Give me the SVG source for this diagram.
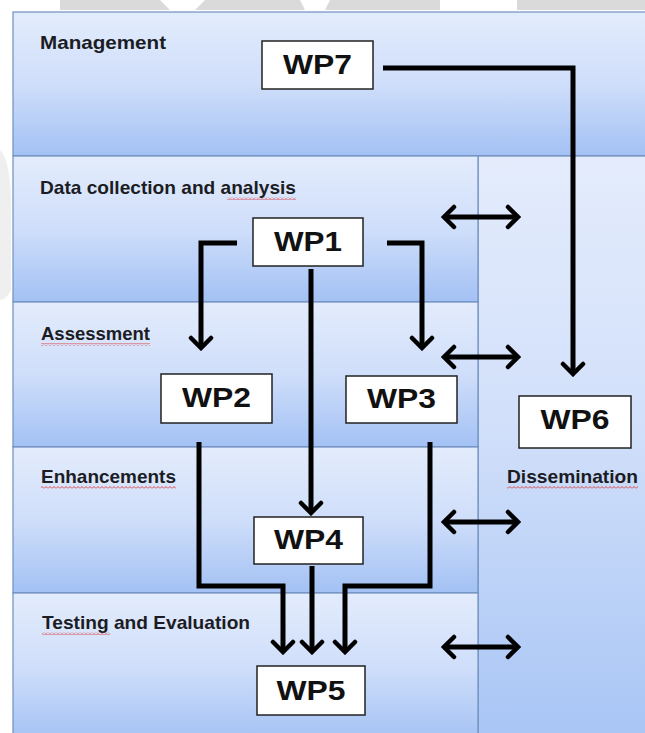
<svg xmlns="http://www.w3.org/2000/svg" width="645" height="733" viewBox="0 0 645 733">
<style>
.lbl{font-family:"Liberation Sans",Arial,sans-serif;font-weight:bold;font-size:18.5px;fill:#1c1c24}
.wp{font-family:"Liberation Sans",Arial,sans-serif;font-weight:bold;font-size:28px;fill:#111;text-anchor:middle}
.box{fill:#fff;stroke:#222;stroke-width:1.5}
.panel{stroke:#6f8fbf;stroke-width:1.2}
.con{fill:none;stroke:#000;stroke-width:5;stroke-linejoin:miter}
</style>
<defs>
<linearGradient id="g" x1="0" y1="0" x2="0" y2="1">
<stop offset="0" stop-color="#e3ecfc"/>
<stop offset="0.5" stop-color="#cfdefa"/>
<stop offset="1" stop-color="#a3c1f4"/>
</linearGradient>
<linearGradient id="gd" x1="0" y1="0" x2="0" y2="1">
<stop offset="0" stop-color="#e4ecfc"/>
<stop offset="0.45" stop-color="#d2e0fa"/>
<stop offset="1" stop-color="#a8c5f5"/>
</linearGradient>
<marker id="ah" viewBox="-14 -14 17 28" refX="0" refY="0" markerWidth="17" markerHeight="28" markerUnits="userSpaceOnUse" orient="auto-start-reverse">
<path d="M-10,-10 L0,0 L-10,10" fill="none" stroke="#000" stroke-width="4.5" stroke-linecap="round"/>
</marker>
<pattern id="sq" width="4" height="3" patternUnits="userSpaceOnUse">
<path d="M0,2.5 L2,0.5 L4,2.5" fill="none" stroke="#d83a3a" stroke-width="0.9"/>
</pattern>
</defs>
<rect width="645" height="733" fill="#fff"/>
<!-- faint watermark -->
<g id="watermark" fill="#dadada">
<path d="M60,0 H440 V10 H60 Z"/>
<path d="M517,0 H645 V10 H517 Z"/>
<path d="M0,150 Q10,160 11,200 L11,290 Q6,300 0,300 Z" fill="#efefef"/>
</g>
<g id="watermark-gaps" fill="#fff">
<path d="M160,0 H205 L195,10 H170 Z"/>
<path d="M300,0 H330 L325,10 H305 Z"/>
</g>
<!-- panels -->
<g id="lane-management"><rect class="panel" x="13" y="12" width="640" height="144" fill="url(#g)" stroke="#7488a4"/><text class="lbl" x="40" y="49" textLength="126" lengthAdjust="spacingAndGlyphs">Management</text></g>
<g id="lane-dissemination"><rect class="panel" x="478" y="156" width="175" height="585" fill="url(#gd)"/><text class="lbl" x="507" y="483" textLength="131" lengthAdjust="spacingAndGlyphs">Dissemination</text></g>
<g id="lane-data"><rect class="panel" x="13" y="156" width="465" height="146" fill="url(#g)"/><text class="lbl" x="40" y="194" textLength="256" lengthAdjust="spacingAndGlyphs">Data collection and analysis</text></g>
<g id="lane-assessment"><rect class="panel" x="13" y="302" width="465" height="145" fill="url(#g)"/><text class="lbl" x="41" y="340" textLength="109" lengthAdjust="spacingAndGlyphs">Assessment</text></g>
<g id="lane-enhancements"><rect class="panel" x="13" y="447" width="465" height="146" fill="url(#g)"/><text class="lbl" x="41" y="483" textLength="135" lengthAdjust="spacingAndGlyphs">Enhancements</text></g>
<g id="lane-testing"><rect class="panel" x="13" y="593" width="465" height="150" fill="url(#g)"/><text class="lbl" x="42" y="629" textLength="208" lengthAdjust="spacingAndGlyphs">Testing and Evaluation</text></g>
<!-- spell-check squiggles -->
<g id="squiggles" fill="url(#sq)">
<rect x="227" y="197" width="69" height="3"/>
<rect x="41" y="343" width="109" height="3"/>
<rect x="41" y="486" width="135" height="3"/>
<rect x="507" y="486" width="131" height="3"/>
<rect x="42" y="632" width="68" height="3"/>
</g>
<!-- connectors -->
<g id="connectors">
<path class="con" d="M383,68 H573 V374" marker-end="url(#ah)"/>
<path class="con" d="M237,243 H201 V348" marker-end="url(#ah)"/>
<path class="con" d="M387,243 H422 V348" marker-end="url(#ah)"/>
<path class="con" d="M311,269 V513" marker-end="url(#ah)"/>
<path class="con" d="M199,442 V586 H283 V652" marker-end="url(#ah)"/>
<path class="con" d="M312,566 V652" marker-end="url(#ah)"/>
<path class="con" d="M430,442 V586 H345 V652" marker-end="url(#ah)"/>
<path class="con" d="M444,217 H518" marker-start="url(#ah)" marker-end="url(#ah)"/>
<path class="con" d="M444,357 H518" marker-start="url(#ah)" marker-end="url(#ah)"/>
<path class="con" d="M444,522 H518" marker-start="url(#ah)" marker-end="url(#ah)"/>
<path class="con" d="M444,647 H518" marker-start="url(#ah)" marker-end="url(#ah)"/>
</g>
<!-- nodes -->
<g id="WP7"><rect class="box" x="262" y="41" width="111" height="48"/><text class="wp" x="317.5" y="74" textLength="69" lengthAdjust="spacingAndGlyphs">WP7</text></g>
<g id="WP1"><rect class="box" x="253" y="218" width="110" height="48"/><text class="wp" x="308" y="251" textLength="68" lengthAdjust="spacingAndGlyphs">WP1</text></g>
<g id="WP2"><rect class="box" x="161" y="374" width="111" height="49"/><text class="wp" x="216.5" y="407" textLength="69" lengthAdjust="spacingAndGlyphs">WP2</text></g>
<g id="WP3"><rect class="box" x="346" y="376" width="111" height="47"/><text class="wp" x="401.5" y="408" textLength="69" lengthAdjust="spacingAndGlyphs">WP3</text></g>
<g id="WP6"><rect class="box" x="519" y="396" width="112" height="52"/><text class="wp" x="575" y="429" textLength="69" lengthAdjust="spacingAndGlyphs">WP6</text></g>
<g id="WP4"><rect class="box" x="254" y="517" width="109" height="47"/><text class="wp" x="308.5" y="549" textLength="69" lengthAdjust="spacingAndGlyphs">WP4</text></g>
<g id="WP5"><rect class="box" x="257" y="666" width="108" height="49"/><text class="wp" x="311" y="700" textLength="69" lengthAdjust="spacingAndGlyphs">WP5</text></g>
</svg>
